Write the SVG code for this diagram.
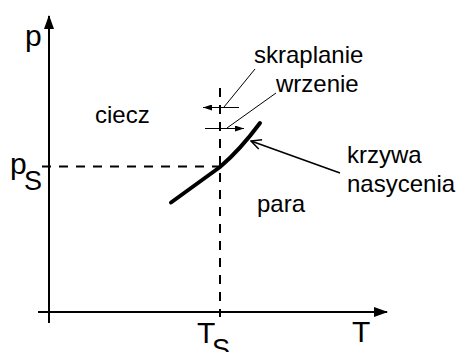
<svg xmlns="http://www.w3.org/2000/svg" width="459" height="352" viewBox="0 0 459 352">
<style>
text{font-family:"Liberation Sans",Arial,sans-serif;fill:#000}
.lbl{font-size:24px}
.big{font-size:30px}
.sub{font-size:27px}
.axis{stroke:#000;stroke-width:2;fill:none}
.dash{stroke:#000;stroke-width:2;stroke-dasharray:9,8;fill:none}
.thin{stroke:#000;stroke-width:1;fill:none}
</style>
<defs>
<marker id="ah" markerWidth="14" markerHeight="10" refX="13" refY="5" orient="auto" markerUnits="userSpaceOnUse">
<path d="M0,0 L14,5 L0,10 Z" fill="#000"/>
</marker>
<marker id="sa" markerWidth="9" markerHeight="6" refX="9" refY="3" orient="auto" markerUnits="userSpaceOnUse">
<path d="M0,0 L9,3 L0,6 Z" fill="#000"/>
</marker>
<marker id="oa" markerWidth="12" markerHeight="12" refX="1" refY="6" orient="auto" markerUnits="userSpaceOnUse">
<path d="M11,1 L1,6 L11,11" fill="none" stroke="#000" stroke-width="1.5"/>
</marker>
</defs>
<g id="axes">
<line class="axis" x1="49" y1="323" x2="49" y2="16" marker-end="url(#ah)"/>
<line class="axis" x1="38" y1="312" x2="387" y2="312" marker-end="url(#ah)"/>
</g>
<g id="connectors">
<line class="dash" x1="42" y1="166.5" x2="220" y2="166.5"/>
<line class="dash" x1="220" y1="88" x2="220" y2="317"/>
<line class="thin" x1="239" y1="107.5" x2="203" y2="107.5" marker-end="url(#sa)"/>
<line class="thin" x1="205" y1="128.5" x2="244" y2="128.5" marker-end="url(#sa)"/>
<line class="thin" x1="255" y1="69" x2="224" y2="107"/>
<line class="thin" x1="276" y1="93" x2="227" y2="128"/>
<line stroke="#000" stroke-width="1.6" x1="251" y1="141" x2="340" y2="173" marker-start="url(#oa)"/>
</g>
<g id="curve">
<path d="M171,202.5 L220,167 Q240,150 260,123" fill="none" stroke="#000" stroke-width="4" stroke-linecap="round"/>
</g>
<g id="labels">
<text class="big" x="25" y="46">p</text>
<text class="big" x="10" y="174">p</text>
<text class="sub" x="24" y="190">S</text>
<text class="big" x="197" y="343">T</text>
<text class="sub" x="212" y="358">S</text>
<text class="big" x="352" y="342">T</text>
<text class="lbl" x="254" y="63">skraplanie</text>
<text class="lbl" x="276" y="92">wrzenie</text>
<text class="lbl" x="95" y="123">ciecz</text>
<text class="lbl" x="257" y="212">para</text>
<text class="lbl" x="347" y="163">krzywa</text>
<text class="lbl" x="347" y="192">nasycenia</text>
</g>
</svg>
